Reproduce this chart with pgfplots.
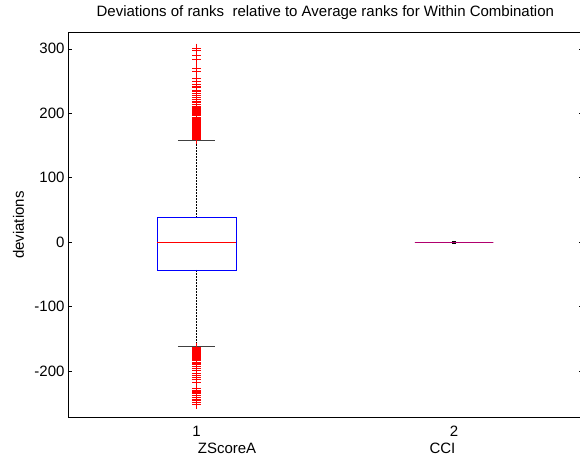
\documentclass[border=0pt]{standalone}
\usepackage{pgfplots}
\pgfplotsset{compat=1.18}
\usepgfplotslibrary{statistics}
\usepackage{fontspec}
\setmainfont{Liberation Sans}
\definecolor{mblue}{RGB}{0,0,255}
\definecolor{mred}{RGB}{255,0,0}
\definecolor{flat}{RGB}{176,0,110}
\newcommand{\mfont}{\fontsize{15bp}{18bp}\selectfont}

\pgfplotstableread[row sep=\\]{
v\\ 159\\ 160\\ 161\\ 162\\ 163\\ 164\\ 165\\ 166\\ 167\\ 168\\ 169\\ 170\\ 172\\ 173\\ 174\\ 175\\ 176\\ 178\\ 179\\ 180\\
181\\ 183\\ 184\\ 185\\ 186\\ 188\\ 189\\ 190\\ 192\\ 193\\ 194\\ 196\\ 197\\ 199\\ 200\\ 201\\ 203\\ 204\\ 206\\ 207\\
209\\ 211\\ 214\\ 217\\ 219\\ 222\\ 225\\ 228\\ 231\\ 234\\ 236\\ 240\\ 242\\ 245\\ 250\\ 254\\ 265\\ 270\\ 283\\ 290\\ 298\\ 301\\
-163\\ -164\\ -165\\ -166\\ -167\\ -168\\ -169\\ -170\\ -171\\ -172\\ -174\\ -175\\ -176\\ -177\\ -179\\ -180\\ -181\\ -183\\ -184\\ -186\\
-188\\ -190\\ -192\\ -196\\ -199\\ -203\\ -206\\ -210\\ -213\\ -217\\ -227\\ -229\\ -231\\ -233\\ -235\\ -237\\ -240\\ -243\\ -246\\ -249\\ -252\\
}\zscoreout

\begin{document}
\begin{tikzpicture}
\begin{axis}[
  scale only axis, width=514.8bp, height=385bp,
  xmin=0.5, xmax=2.5, ymin=-272, ymax=325,
  xtick={1,2}, xticklabels={1,2}, xtick style={draw=none},
  ytick={-200,-100,0,100,200,300},
  yticklabels={-200,-100,0,100,200,300},
  tick align=inside, major tick length=4bp,
  tick style={black, line width=0.6bp},
  tick label style={font=\mfont},
  xticklabel style={anchor=base, yshift=-19bp},
  axis line style={line width=0.8bp},
  clip=false,
  title={Deviations of ranks\ \ relative to Average ranks for Within Combination},
  title style={font=\mfont, at={(0.5,1)}, anchor=base, yshift=10.7bp},
  boxplot/draw direction=y,
  boxplot/every box/.style={draw=mblue, line width=0.8bp},
  boxplot/every median/.style={draw=mred, line width=0.8bp},
  boxplot/draw/lower whisker/.code={
    \draw[black, line width=0.6bp, dash pattern=on 2bp off 1bp]
      (boxplot box cs:\pgfplotsboxplotvalue{lower quartile},0.5) --
      (boxplot box cs:\pgfplotsboxplotvalue{lower whisker},0.5);
    \draw[black!75, line width=1bp]
      (boxplot whisker cs:\pgfplotsboxplotvalue{lower whisker},0) --
      (boxplot whisker cs:\pgfplotsboxplotvalue{lower whisker},1);
  },
  boxplot/draw/upper whisker/.code={
    \draw[black, line width=0.6bp, dash pattern=on 2bp off 1bp]
      (boxplot box cs:\pgfplotsboxplotvalue{upper quartile},0.5) --
      (boxplot box cs:\pgfplotsboxplotvalue{upper whisker},0.5);
    \draw[black!75, line width=1bp]
      (boxplot whisker cs:\pgfplotsboxplotvalue{upper whisker},0) --
      (boxplot whisker cs:\pgfplotsboxplotvalue{upper whisker},1);
  },
]
% ZScoreA
\addplot[boxplot prepared={median=0, upper quartile=38, lower quartile=-43,
    upper whisker=158, lower whisker=-161, draw position=1,
    box extend=0.305, whisker extend=0.146},
  mark=+, mark size=4.5bp, mark options={draw=mred, line width=0.8bp}]
  table[y=v] {\zscoreout};
% CCI
\addplot[boxplot prepared={median=0, upper quartile=0, lower quartile=0,
    upper whisker=0, lower whisker=0, draw position=2,
    box extend=0.305, whisker extend=0.014},
  boxplot/every box/.style={draw=flat, line width=1bp},
  boxplot/every median/.style={draw=flat, line width=1bp},
  boxplot/draw/lower whisker/.code={
    \draw[black, line width=3bp]
      (boxplot whisker cs:\pgfplotsboxplotvalue{lower whisker},0) --
      (boxplot whisker cs:\pgfplotsboxplotvalue{lower whisker},1);
  },
  boxplot/draw/upper whisker/.code={}]
  coordinates {};
\node[font=\mfont, anchor=base] at ([yshift=-36bp]axis cs:1.118,-272) {ZScoreA};
\node[font=\mfont, anchor=base] at ([yshift=-36bp]axis cs:1.955,-272) {CCI};
\node[font=\mfont, rotate=90, anchor=base] at ([xshift=-44bp]rel axis cs:0,0.5) {deviations};
\coordinate (bl) at (rel axis cs:0,0);
\coordinate (tr) at (rel axis cs:1,1);
\end{axis}
\pgfresetboundingbox
\path[use as bounding box] ([xshift=-68bp,yshift=-39bp]bl) rectangle ([xshift=-2.7bp,yshift=32.7bp]tr);
\end{tikzpicture}
\end{document}
